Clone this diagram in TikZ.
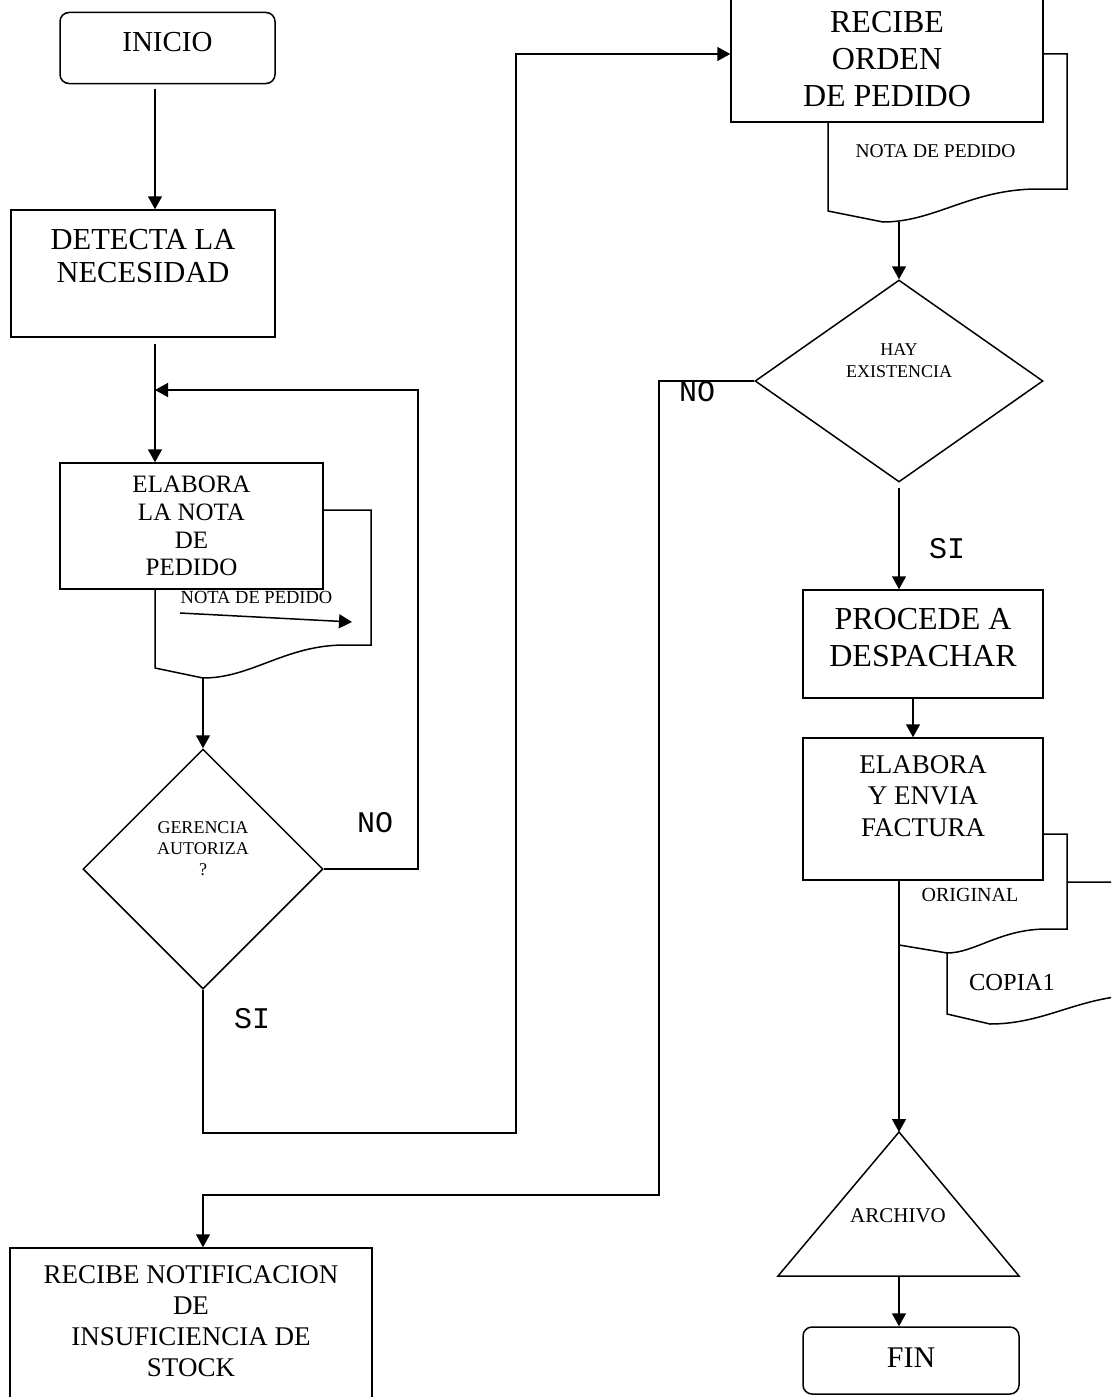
\documentclass[tikz,border=0pt]{standalone}
\usepackage{fontspec}
\setmainfont{Liberation Serif}
\setmonofont{Liberation Mono}
\usetikzlibrary{arrows.meta,shapes.geometric}
\newcommand\fsz[2]{\fontsize{#1}{#2}\selectfont}

\begin{document}
\begin{tikzpicture}[x=1pt,y=-1pt,
  line width=1.5pt,
  box/.style={draw,fill=white,rectangle,inner sep=0pt},
  rbox/.style={box,rounded corners=9pt},
  dec/.style={draw,fill=white,diamond,inner sep=0pt},
  doc/.style={draw,fill=white},
  txt/.style={align=center,inner sep=0pt},
  flow/.style={-{Triangle[length=13pt,width=14pt]}},
  lbl/.style={inner sep=0pt,font=\ttfamily\fsz{30}{34}}
]
\clip (0,0) rectangle (1111,1397);
\fill[white] (0,0) rectangle (1111,1397);

% ---------- left column ----------
\node[rbox, minimum width=215pt, minimum height=71pt] (inicio) at (167.5,48) {};
\node[txt, font=\fsz{29}{33}] (inicioT) at ([yshift=6pt]inicio.center) {INICIO};

\node[box, minimum width=264pt, minimum height=127pt] (detecta) at (143,273.5) {};
\node[txt, font=\fsz{30.5}{33}] (detectaT) at ([yshift=17pt]detecta.center) {DETECTA LA\\NECESIDAD};

% order document behind the box
\draw[doc] (155,510) -- (371,510) -- (371,645) -- (345,645)
  .. controls (285,645) and (252,678) .. (203,678) -- (155,668) -- cycle;
\coordinate (doc1out) at (203,678);
\node[txt, font=\fsz{18.5}{21}] (nota1) at (256.5,597) {NOTA DE PEDIDO};
\coordinate (na1) at (180,613);
\coordinate (na2) at (352,622);
\draw[flow] (na1) -- (na2);

\node[box, minimum width=263pt, minimum height=126pt] (elabora) at (191.5,526) {};
\node[txt, font=\fsz{25}{27.7}] (elaboraT) at (elabora.center) {ELABORA\\LA NOTA\\DE\\PEDIDO};

\node[dec, minimum width=240pt, minimum height=240pt] (gerencia) at (203,869) {};
\node[txt, font=\fsz{18}{21}] (gerenciaT) at ([yshift=20pt]gerencia.center) {GERENCIA\\AUTORIZA\\?};

\node[box, minimum width=362pt, minimum height=182pt] (notif) at (191,1339) {};
\node[txt, font=\fsz{27}{31}] (notifT) at (191,1321) {RECIBE NOTIFICACION\\DE\\INSUFICIENCIA DE\\STOCK};

% ---------- right column ----------
\draw[doc] (828,54) -- (1067,54) -- (1067,189) -- (1038,189)
  .. controls (971,189) and (935,222) .. (883,222) -- (828,211) -- cycle;
\coordinate (doc2out) at (899,221.5);
\node[txt, font=\fsz{19.5}{22}] (nota2) at (935.5,151.5) {NOTA DE PEDIDO};

\node[box, minimum width=312pt, minimum height=126pt] (recibe) at (887,59) {};
\node[txt, font=\fsz{32}{37}] (recibeT) at (recibe.center) {RECIBE\\ORDEN\\DE PEDIDO};

\node[dec, minimum width=288pt, minimum height=202pt] (hay) at (899,381) {};
\node[txt, font=\fsz{18}{22}] (hayT) at ([yshift=20pt]hay.center) {HAY\\EXISTENCIA};

\node[box, minimum width=240pt, minimum height=108pt] (procede) at (923,644) {};
\node[txt, font=\fsz{32}{37}] (procedeT) at ([yshift=6pt]procede.center) {PROCEDE A\\DESPACHAR};

% invoice copies behind the box
\draw[doc] (947,882) -- (1180,882) -- (1180,995) -- (1143,995)
  .. controls (1080,995) and (1047,1024) .. (990,1024) -- (947,1014) -- cycle;
\node[txt, font=\fsz{24.5}{28}] (copia) at (1012,982) {COPIA1};
\draw[doc] (899,834) -- (1067,834) -- (1067,929) -- (1047,929)
  .. controls (1000,929) and (975,953) .. (947,953) -- (899,945) -- cycle;
\node[txt, font=\fsz{20}{23}] (original) at (970,895) {ORIGINAL};

\node[box, minimum width=240pt, minimum height=142pt] (factura) at (923,809) {};
\node[txt, font=\fsz{27}{31.5}] (facturaT) at ([yshift=13pt]factura.center) {ELABORA\\Y ENVIA\\FACTURA};

% file triangle
\coordinate (archA) at (899,1132);
\coordinate (archL) at (778,1276);
\coordinate (archR) at (1019,1276);
\coordinate (archB) at (899,1276);
\draw[doc] (archA) -- (archR) -- (archL) -- cycle;
\node[txt, font=\fsz{21}{24}] (archivo) at (898,1216) {ARCHIVO};

\node[rbox, minimum width=216pt, minimum height=67pt] (fin) at (911,1360.5) {};
\node[txt, font=\fsz{30}{34}] (finT) at (911,1358) {FIN};

% ---------- connectors ----------
\coordinate (colA) at (155,0);
\coordinate (loopR) at (418,390);
\coordinate (siY) at (516,1133);
\coordinate (noX) at (659,1195);

\draw[flow, shorten <=5pt] (inicio.south -| colA) -- (detecta.north -| colA);
\draw[flow, shorten <=6pt] (detecta.south -| colA) -- (elabora.north -| colA);
\draw[flow] (doc1out) -- (gerencia.north);
\draw[flow] (gerencia.east) -| (loopR) -- (loopR -| colA);
\draw[flow] (gerencia.south) |- (siY) |- ([yshift=5pt]recibe.west);
\draw[flow] (doc2out) -- (hay.north);
\draw[flow] (hay.west) -| (noX) -| ([xshift=12pt]notif.north);
\draw[flow, shorten <=5pt] (hay.south) -- (hay.south |- procede.north);
\draw[flow] ([xshift=-10pt]procede.south) -- ([xshift=-10pt]factura.north);
\draw[flow] (factura.south -| archA) -- (archA);
\draw[flow] (archB) -- (archB |- fin.north);

% branch labels
\node[lbl] (noG) at (375,823) {NO};
\node[lbl] (siG) at (252,1019) {SI};
\node[lbl] (noH) at (697,392) {NO};
\node[lbl] (siH) at (947,549) {SI};
\end{tikzpicture}
\end{document}
